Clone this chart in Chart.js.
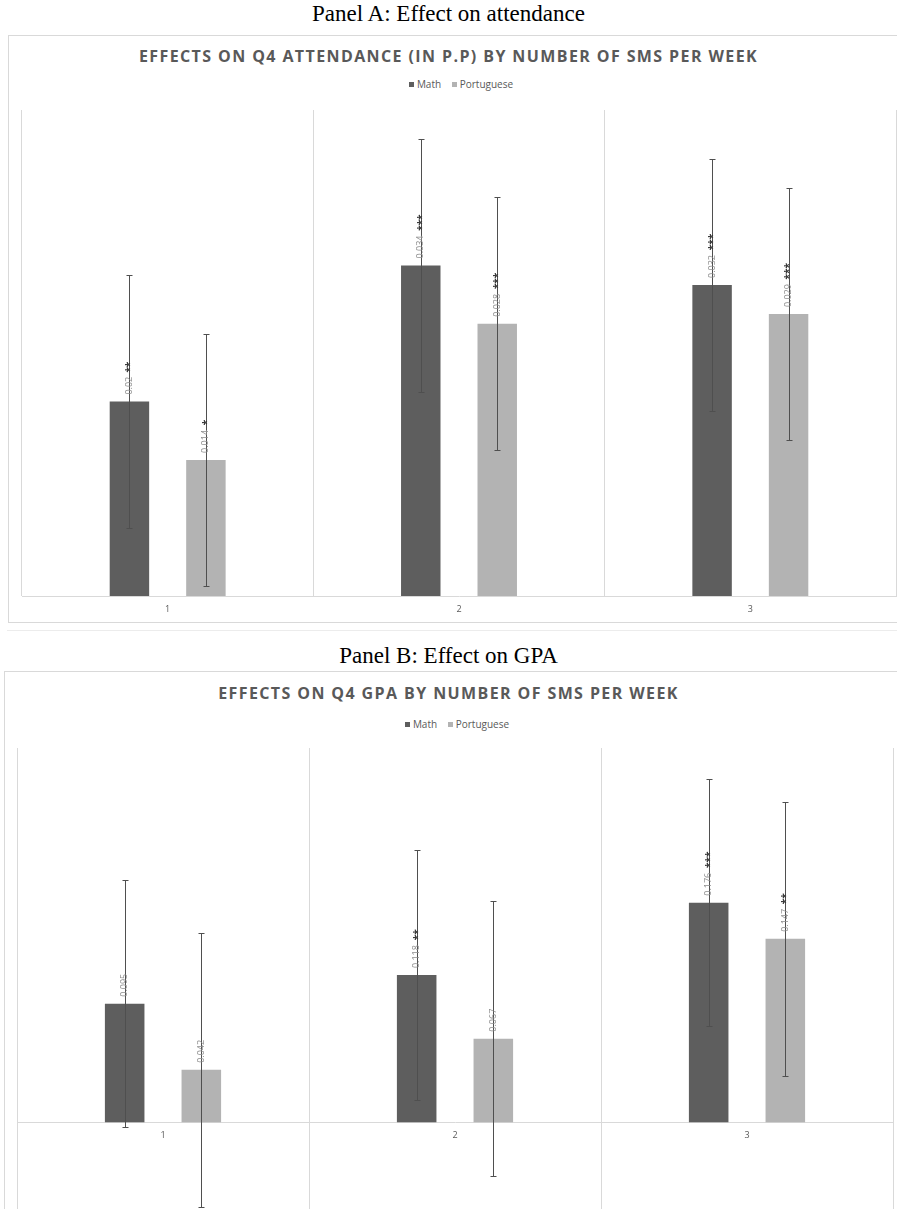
<!DOCTYPE html>
<html>
<head>
<meta charset="utf-8">
<title>Effects by number of SMS per week</title>
<script src="https://cdn.jsdelivr.net/npm/chart.js@4.4.1/dist/chart.umd.min.js"></script>
<style>
  html, body { margin: 0; padding: 0; width: 897px; height: 1209px; overflow: hidden; background: #fff; }
  .heading { position: absolute; left: 0; width: 897px; text-align: center; font-family: 'Liberation Serif', serif; font-size: 23px; line-height: 26px; color: #000; }
  .box { position: absolute; border: 1px solid #d9d9d9; box-sizing: border-box; }
  .ctitle { position: absolute; left: 0; width: 897px; text-align: center; font: bold 16px 'Open Sans', sans-serif; letter-spacing: 1.4px; line-height: 20px; color: #595959; white-space: nowrap; }
  .legend { position: absolute; left: 0; text-align: center; font: 10px 'Open Sans', sans-serif; line-height: 14px; color: #595959; white-space: nowrap; }
  .legend .sw { display: inline-block; width: 5px; height: 5px; margin-right: 3px; vertical-align: 1px; }
  .legend .item + .item { margin-left: 8px; }
  .plot { position: absolute; left: 0; width: 897px; height: 520px; }
  .sep { position: absolute; left: 7px; width: 890px; height: 1px; background: #ececec; }
</style>
</head>
<body>

<div class="heading" style="top:1px">Panel A: Effect on attendance</div>
<div class="box" style="left:8px; top:35px; width:905px; height:588px;"></div>
<div class="ctitle" style="top:46px">EFFECTS ON Q4 ATTENDANCE (IN P.P) BY NUMBER OF SMS PER WEEK</div>
<div class="legend" style="top:77px; width:922px;">
  <span class="item"><span class="sw" style="background:#5e5e5e"></span>Math</span>
  <span class="item"><span class="sw" style="background:#b3b3b3"></span>Portuguese</span>
</div>
<div class="plot" style="top:100px"><canvas id="chartA"></canvas></div>

<div class="sep" style="top:630px"></div>

<div class="heading" style="top:643px">Panel B: Effect on GPA</div>
<div class="box" style="left:4px; top:671px; width:909px; height:700px;"></div>
<div class="ctitle" style="top:683px">EFFECTS ON Q4 GPA BY NUMBER OF SMS PER WEEK</div>
<div class="legend" style="top:717px; width:914px;">
  <span class="item"><span class="sw" style="background:#5e5e5e"></span>Math</span>
  <span class="item"><span class="sw" style="background:#b3b3b3"></span>Portuguese</span>
</div>
<div class="plot" style="top:740px"><canvas id="chartB"></canvas></div>

<script>
'use strict';

// SMS per week
const categories = ['1', '2', '3'];

// Panel A: attendance (p.p.)
const mathAttendance  = [0.02, 0.034, 0.032];
const portAttendance  = [0.014, 0.028, 0.029];
const mathAttErr      = [0.013, 0.013, 0.013];
const portAttErr      = [0.013, 0.013, 0.013];
const mathAttStars    = ['**', '***', '***'];
const portAttStars    = ['*', '***', '***'];

// Panel B: GPA
const mathGpa         = [0.095, 0.118, 0.176];
const portGpa         = [0.042, 0.067, 0.147];
const mathGpaErr      = [0.099, 0.1, 0.099];
const portGpaErr      = [0.11, 0.11, 0.11];
const mathGpaStars    = ['', '**', '***'];
const portGpaStars    = ['', '', '**'];

const MATH_COLOR = '#5e5e5e';
const PORT_COLOR = '#b3b3b3';

// error bars + rotated value labels, drawn on top of the bars
const barExtras = {
  id: 'barExtras',
  afterDatasetsDraw(chart) {
    const ctx = chart.ctx;
    const yScale = chart.scales.y;
    chart.data.datasets.forEach((ds, i) => {
      const meta = chart.getDatasetMeta(i);
      meta.data.forEach((bar, j) => {
        const v = ds.data[j];
        const e = ds.errors[j];
        const x = Math.round(bar.x) + 0.5;
        const yHi = Math.round(yScale.getPixelForValue(v + e)) + 0.5;
        const yLo = Math.round(yScale.getPixelForValue(v - e)) + 0.5;

        ctx.save();
        ctx.strokeStyle = '#4f4f4f';
        ctx.lineWidth = 1;
        ctx.beginPath();
        ctx.moveTo(x, yHi); ctx.lineTo(x, yLo);
        ctx.moveTo(x - 3, yHi); ctx.lineTo(x + 3, yHi);
        ctx.moveTo(x - 3, yLo); ctx.lineTo(x + 3, yLo);
        ctx.stroke();

        ctx.translate(bar.x, bar.y - 7);
        ctx.rotate(-Math.PI / 2);
        ctx.font = '9px "Open Sans", sans-serif';
        ctx.textAlign = 'left';
        ctx.textBaseline = 'middle';
        const num = String(v);
        ctx.fillStyle = '#8f8f8f';
        ctx.fillText(num, 0, 0);
        ctx.font = 'bold 10px "Open Sans", sans-serif';
        ctx.fillStyle = '#3a3a3a';
        ctx.fillText(ds.stars[j], ctx.measureText(num).width + 2, 1);
        ctx.restore();
      });
    });
  },
};

function makeChart(id, math, port, mathErr, portErr, mathStars, portStars, yMin, yMax, padding) {
  const ctx = document.getElementById(id).getContext('2d');
  // eslint-disable-next-line no-new
  new Chart(ctx, {
    type: 'bar',
    data: {
      labels: categories,
      datasets: [
        { label: 'Math', data: math, errors: mathErr, stars: mathStars, backgroundColor: MATH_COLOR },
        { label: 'Portuguese', data: port, errors: portErr, stars: portStars, backgroundColor: PORT_COLOR },
      ],
    },
    options: {
      responsive: true,
      maintainAspectRatio: false,
      animation: false,
      layout: { padding },
      datasets: { bar: { categoryPercentage: 0.525, barPercentage: 0.516 } },
      plugins: {
        legend: { display: false },
        tooltip: { enabled: false },
      },
      scales: {
        x: {
          position: { y: 0 },
          grid: { color: '#d9d9d9', drawTicks: false, offset: true },
          border: { color: '#d9d9d9' },
          ticks: { color: '#595959', font: { size: 9, family: 'Open Sans' }, padding: 8 },
        },
        y: { display: false, min: yMin, max: yMax },
      },
    },
    plugins: [barExtras],
  });
}

makeChart('chartA', mathAttendance, portAttendance, mathAttErr, portAttErr, mathAttStars, portAttStars,
  0, 0.05, { left: 22, right: 1, top: 10, bottom: 24 });
makeChart('chartB', mathGpa, portGpa, mathGpaErr, portGpaErr, mathGpaStars, portGpaStars,
  -0.1, 0.3, { left: 17, right: 4, top: 8, bottom: 13 });
</script>
</body>
</html>
